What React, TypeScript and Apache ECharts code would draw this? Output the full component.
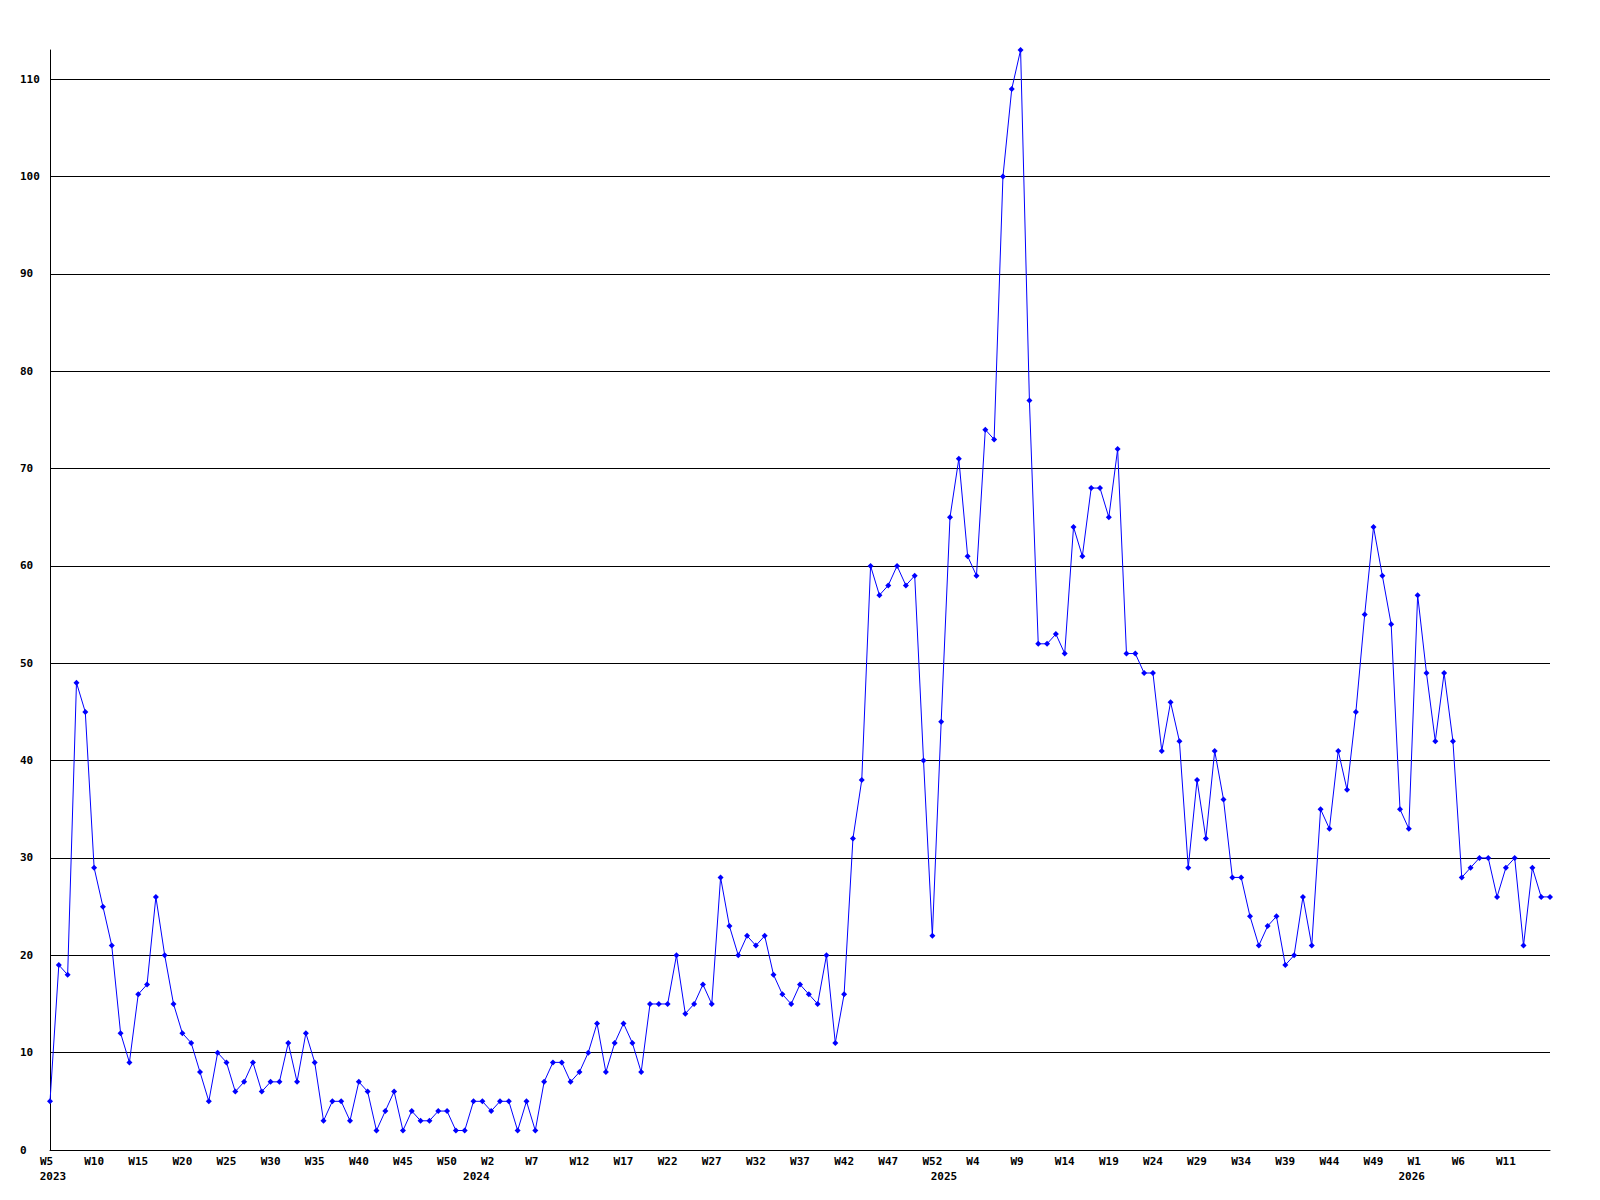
import React, { useEffect, useRef } from "react";
import * as echarts from "echarts";

// Week ranges covered per year (this chart's week numbering runs to W53)
const years = [2023, 2024, 2025, 2026];
const firstWeeks = [5, 1, 1, 1];
const lastWeeks = [53, 53, 53, 16];

// Weekly values, one array per year
const values2023 = [5, 19, 18, 48, 45, 29, 25, 21, 12, 9, 16, 17, 26, 20, 15, 12, 11, 8, 5, 10, 9, 6, 7, 9, 6, 7, 7, 11, 7, 12, 9, 3, 5, 5, 3, 7, 6, 2, 4, 6, 2, 4, 3, 3, 4, 4, 2, 2, 5];
const values2024 = [5, 4, 5, 5, 2, 5, 2, 7, 9, 9, 7, 8, 10, 13, 8, 11, 13, 11, 8, 15, 15, 15, 20, 14, 15, 17, 15, 28, 23, 20, 22, 21, 22, 18, 16, 15, 17, 16, 15, 20, 11, 16, 32, 38, 60, 57, 58, 60, 58, 59, 40, 22, 44];
const values2025 = [65, 71, 61, 59, 74, 73, 100, 109, 113, 77, 52, 52, 53, 51, 64, 61, 68, 68, 65, 72, 51, 51, 49, 49, 41, 46, 42, 29, 38, 32, 41, 36, 28, 28, 24, 21, 23, 24, 19, 20, 26, 21, 35, 33, 41, 37, 45, 55, 64, 59, 54, 35, 33];
const values2026 = [57, 49, 42, 49, 42, 28, 29, 30, 30, 26, 29, 30, 21, 29, 26, 26];

// Y axis
const yMin = 0;
const yMax = 113;
const yInterval = 10;

const FONT = "DejaVu Sans Mono";

export default function App() {
  const ref = useRef<HTMLDivElement>(null);

  useEffect(() => {
    if (!ref.current) return;
    const categories: string[] = [];
    const yearStartIdx: number[] = [];
    years.forEach((y, i) => {
      yearStartIdx.push(categories.length);
      for (let w = firstWeeks[i]; w <= lastWeeks[i]; w++) categories.push(`${y}-W${w}`);
    });
    const data = [...values2023, ...values2024, ...values2025, ...values2026];
    const lastIdx = categories.length - 1;

    const chart = echarts.init(ref.current, undefined, { renderer: "svg" });
    const labelBase = {
      fontFamily: FONT,
      fontWeight: "bold" as const,
      fontSize: 11,
      color: "#000",
    };
    chart.setOption({
      animation: false,
      backgroundColor: "#fff",
      grid: { left: 50, right: 50, top: 50, bottom: 50, containLabel: false },
      xAxis: [
        {
          type: "category",
          data: categories,
          boundaryGap: false,
          axisLine: { show: true, lineStyle: { color: "#000", width: 1 } },
          axisTick: { show: false },
          splitLine: { show: false },
          axisLabel: {
            ...labelBase,
            margin: 6,
            interval: (index: number) => index % 5 === 0 && index < lastIdx,
            formatter: (value: string) => {
              const w = value.split("-")[1];
              return w.length <= 2 ? `{s|${w}}` : `{l|${w}}`;
            },
            rich: {
              s: { ...labelBase, padding: [0, 7, 0, 0] },
              l: { ...labelBase },
            },
          },
        },
        {
          type: "category",
          data: categories,
          boundaryGap: false,
          position: "bottom",
          axisLine: { show: false },
          axisTick: { show: false },
          splitLine: { show: false },
          axisLabel: {
            ...labelBase,
            margin: 21,
            interval: (index: number) => yearStartIdx.includes(index),
            formatter: (value: string, index: number) => {
              const y = value.split("-")[0];
              return index === 0 ? `{a|${y}}` : `{b|${y}}`;
            },
            rich: {
              a: { ...labelBase, padding: [0, 0, 0, 6] },
              b: { ...labelBase, padding: [0, 12, 0, 0] },
            },
          },
        },
      ],
      yAxis: {
        type: "value",
        min: yMin,
        max: yMax,
        interval: yInterval,
        axisLine: { show: true, lineStyle: { color: "#000", width: 1 } },
        axisTick: { show: false },
        splitLine: {
          show: true,
          showMaxLine: false,
          lineStyle: { color: "#000", width: 1 },
        },
        axisLabel: {
          ...labelBase,
          align: "left",
          margin: 30,
          showMaxLabel: false,
        },
      },
      series: [
        {
          type: "line",
          data,
          xAxisIndex: 0,
          showAllSymbol: true,
          symbol: "diamond",
          symbolSize: 6,
          lineStyle: { color: "#0000ff", width: 1 },
          itemStyle: { color: "#0000ff" },
          emphasis: { disabled: true },
        },
      ],
    });
    return () => chart.dispose();
  }, []);

  return (
    <div
      ref={ref}
      style={{ position: "fixed", left: 0, top: 0, width: 1600, height: 1200, background: "#fff" }}
    />
  );
}
